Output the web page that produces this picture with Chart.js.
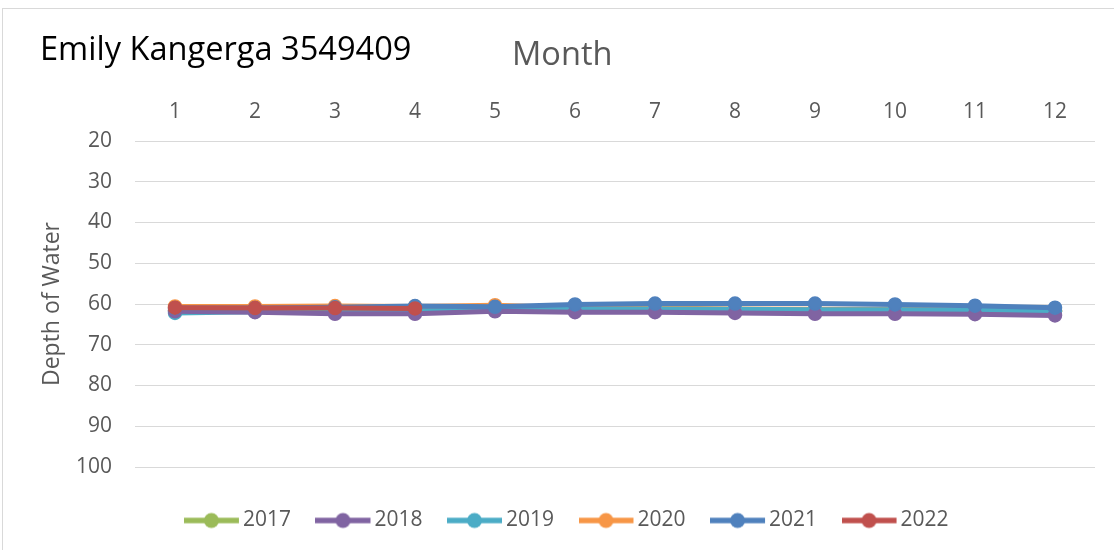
<!DOCTYPE html>
<html>
<head>
<meta charset="utf-8">
<script src="https://cdn.jsdelivr.net/npm/chart.js@4/dist/chart.umd.min.js"></script>
<style>
  html, body { margin: 0; padding: 0; background: #ffffff; }
  #wrap { width: 1114px; height: 550px; position: relative; }
</style>
</head>
<body>
<div id="wrap"><canvas id="c" width="1114" height="550"></canvas></div>
<script>
const months = ['1','2','3','4','5','6','7','8','9','10','11','12'];
const yTicks = [20, 30, 40, 50, 60, 70, 80, 90, 100];
const seriesNames = ['2017','2018','2019','2020','2021','2022'];
const d2017 = [61.6, 61.6, 61.5, 61.5, 61.2, 61.2, 61.3, 61.4, 61.5, 61.5, 61.6, 61.8];
const d2018 = [61.8, 62.0, 62.4, 62.4, 61.8, 62.0, 62.0, 62.2, 62.4, 62.4, 62.5, 62.8];
const d2019 = [62.2, 61.9, 61.8, 61.7, 61.5, 61.3, 61.2, 61.3, 61.4, 61.4, 61.5, 61.7];
const d2020 = [60.6, 60.6, 60.5, 60.6, 60.3, 60.9, 61.0, 61.2, 61.3, 61.3, 61.5, 61.7];
const d2021 = [61.0, 61.0, 60.8, 60.5, 60.7, 60.1, 59.9, 59.9, 59.9, 60.1, 60.4, 60.9];
const d2022 = [60.9, 61.0, 61.0, 61.1, null, null, null, null, null, null, null, null];
const chartTitle = 'Emily Kangerga 3549409';
const xTitle = 'Month';
const yTitle = 'Depth of Water';

const colors = ['#9bbb59', '#8064a2', '#4bacc6', '#f79646', '#4f81bd', '#c0504d'];
const drawOrder = [5, 2, 3, 4, 1, 0]; // lower = drawn on top
const allData = [d2017, d2018, d2019, d2020, d2021, d2022];

function legendMarker(color) {
  const cv = document.createElement('canvas');
  cv.width = 67; cv.height = 18;
  const g = cv.getContext('2d');
  g.strokeStyle = color; g.lineWidth = 5.5; g.lineCap = 'butt';
  g.beginPath(); g.moveTo(0, 9); g.lineTo(55, 9); g.stroke();
  g.fillStyle = color;
  g.beginPath(); g.arc(27.5, 9, 7.5, 0, Math.PI * 2); g.fill();
  return cv;
}
const markers = colors.map(legendMarker);

const datasets = seriesNames.map((n, i) => ({
  label: n,
  data: allData[i],
  borderColor: colors[i],
  backgroundColor: colors[i],
  pointBackgroundColor: colors[i],
  pointBorderColor: colors[i],
  borderWidth: 5,
  pointRadius: 6.5,
  pointBorderWidth: 1.5,
  pointStyle: 'circle',
  tension: 0,
  spanGaps: false,
  order: drawOrder[i]
}));

const FONT = "'Open Sans', 'DejaVu Sans', sans-serif";

const decor = {
  id: 'decor',
  beforeDraw(chart) {
    const ctx = chart.ctx;
    ctx.save();
    ctx.fillStyle = '#ffffff';
    ctx.fillRect(0, 0, chart.width, chart.height);
    ctx.strokeStyle = '#d9d9d9';
    ctx.lineWidth = 1;
    ctx.strokeRect(2.5, 8.5, 1200, 700);
    ctx.restore();
  },
  afterDraw(chart) {
    const ctx = chart.ctx;
    ctx.save();
    ctx.textBaseline = 'alphabetic';
    ctx.textAlign = 'left';
    ctx.fillStyle = '#000000';
    ctx.font = '32.6px ' + FONT;
    ctx.fillText(chartTitle, 40, 60);
    ctx.fillStyle = '#595959';
    ctx.font = '32.6px ' + FONT;
    ctx.fillText(xTitle, 512, 65);
    ctx.restore();
  }
};

new Chart(document.getElementById('c'), {
  type: 'line',
  data: { labels: months, datasets },
  plugins: [decor],
  options: {
    responsive: false,
    animation: false,
    layout: { padding: { left: 56, right: 19, top: 0, bottom: 9 } },
    scales: {
      x: {
        position: 'top',
        offset: true,
        grid: { display: false, drawTicks: false },
        border: { display: false },
        ticks: { color: '#595959', font: { family: FONT, size: 21 }, padding: 16, maxRotation: 0 },
        afterFit(scale) { scale.height = 141; }
      },
      y: {
        reverse: true,
        min: 20,
        max: 100,
        afterBuildTicks(scale) { scale.ticks = yTicks.map(v => ({ value: v })); },
        grid: { color: '#d9d9d9', lineWidth: 1, drawTicks: false },
        border: { display: false },
        ticks: { color: '#595959', font: { family: FONT, size: 21 }, padding: 23 },
        title: { display: true, text: yTitle, color: '#595959', font: { family: FONT, size: 23 }, padding: { top: -17, bottom: 0 } },
        afterFit(scale) { scale.width = 79; }
      }
    },
    plugins: {
      title: { display: false },
      tooltip: { enabled: false },
      legend: {
        display: true,
        position: 'bottom',
        labels: {
          usePointStyle: true,
          pointStyleWidth: 30,
          padding: 43,
          color: '#595959',
          font: { family: FONT, size: 21 },
          generateLabels(chart) {
            return chart.data.datasets.map((ds, i) => ({
              text: ds.label,
              fillStyle: colors[i],
              strokeStyle: colors[i],
              lineWidth: 0,
              pointStyle: markers[i],
              hidden: false,
              datasetIndex: i,
              fontColor: '#595959'
            }));
          },
          sort(a, b) { return a.datasetIndex - b.datasetIndex; }
        }
      }
    }
  }
});
</script>
</body>
</html>
